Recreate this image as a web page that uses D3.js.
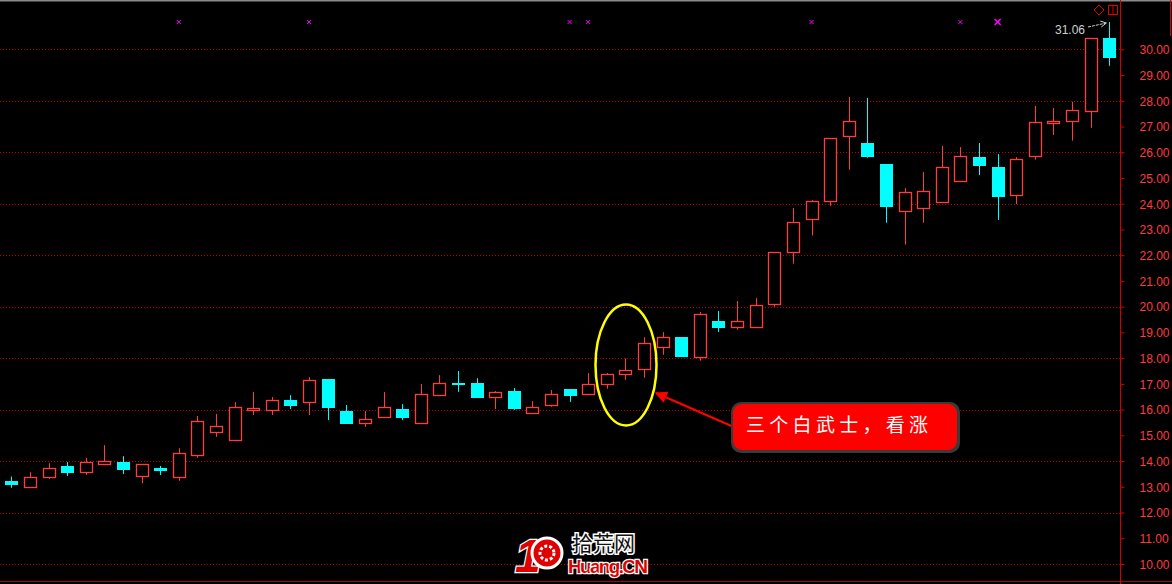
<!DOCTYPE html>
<html>
<head>
<meta charset="utf-8">
<title>K-line</title>
<style>
  body { margin: 0; background: #000; }
  svg { display: block; }
  .tick text { font-family: "Liberation Sans", Arial, sans-serif; font-size: 12px; fill: #ff3c3c; }
  .tick line { stroke: #d00000; }
</style>
</head>
<body>
<script src="https://d3js.org/d3.v7.min.js"></script>
<script>
// price values per candle
var opens  = [13.22,13.00,13.39,13.81,13.58,13.89,13.96,13.43,13.74,13.39,
              14.24,15.11,14.80,16.00,16.00,16.37,16.30,17.19,15.94,15.46,
              15.70,16.02,15.46,16.55,17.03,17.03,16.50,16.72,15.85,16.16,
              16.80,16.59,17.00,17.37,17.56,18.44,18.82,18.05,19.44,19.22,
              19.22,20.09,22.13,23.39,24.09,26.62,26.36,25.54,23.70,23.82,
              24.05,24.89,25.81,25.43,24.33,25.84,27.12,27.22,27.59,30.44];
var closes = [13.12,13.40,13.72,13.57,13.95,14.00,13.69,13.87,13.65,14.30,
              15.54,15.35,16.09,16.05,16.36,16.19,17.14,16.11,15.49,15.62,
              16.09,15.72,16.59,17.02,16.98,16.50,16.67,16.07,16.12,16.59,
              16.58,16.98,17.37,17.52,18.57,18.81,18.09,19.70,19.22,19.43,
              20.05,22.11,23.28,24.09,26.54,27.20,25.86,23.92,24.44,24.48,
              25.41,25.84,25.51,24.31,25.72,27.16,27.20,27.63,30.43,29.71];
var highs  = [13.40,13.57,13.92,13.96,14.12,14.62,14.19,13.87,13.81,14.50,
              15.75,15.83,16.29,16.68,16.49,16.56,17.26,17.19,16.18,15.94,
              16.68,16.21,16.99,17.34,17.50,17.22,16.72,16.84,16.33,16.76,
              16.80,17.42,17.42,17.99,18.81,19.01,18.82,19.79,19.83,20.22,
              20.33,22.11,23.83,24.14,26.54,28.15,28.11,25.54,24.61,25.23,
              26.24,26.20,26.36,25.93,25.81,27.80,27.72,27.96,30.43,31.06];
var lows   = [12.96,13.00,13.30,13.42,13.46,13.89,13.50,13.14,13.46,13.23,
              14.13,14.94,14.80,15.79,15.79,16.02,15.79,15.59,15.49,15.33,
              15.70,15.59,15.46,16.55,16.69,16.46,16.02,15.99,15.85,16.11,
              16.30,16.59,16.81,17.16,17.24,18.13,18.09,17.90,19.02,19.10,
              19.22,20.00,21.67,22.76,23.92,25.32,25.79,23.26,22.41,23.26,
              24.05,24.84,25.11,23.37,23.99,25.71,26.67,26.45,26.95,29.36];

// candles carrying a magenta signal mark at the top
var signalIdx = [9, 16, 30, 31, 43, 51, 53];
// axis tick labels
var tickValues = d3.range(10, 31, 1);
var gridValues = d3.range(10, 31, 2);
var maxLabel = "31.06";
var noteText = "三个白武士，看涨";

var width = 1172, height = 584;
var red = "#ff3c3c", cyan = "#00ffff";

var svg = d3.select("body").append("svg")
    .attr("width", width)
    .attr("height", height);

svg.append("rect").attr("width", width).attr("height", height).attr("fill", "#000");

var x = d3.scaleLinear().domain([0, opens.length - 1]).range([11.3, 1109.3]);
var y = d3.scaleLinear().domain([10, 30]).range([564, 49.3]);

// top grey border, bottom red border
svg.append("line").attr("x1", 0).attr("x2", width).attr("y1", 0.5).attr("y2", 0.5)
    .attr("stroke", "#8a8a8a").attr("stroke-width", 2);
svg.append("line").attr("x1", 0).attr("x2", width).attr("y1", 581.5).attr("y2", 581.5)
    .attr("stroke", "#b00000");

// dotted grid
svg.append("g").selectAll("line").data(gridValues).join("line")
    .attr("x1", 0).attr("x2", 1120)
    .attr("y1", function(d) { return Math.round(y(d)) + 0.5; })
    .attr("y2", function(d) { return Math.round(y(d)) + 0.5; })
    .attr("stroke", "#c00000").attr("stroke-dasharray", "1,2");

// right axis
var axis = svg.append("g")
    .attr("transform", "translate(1120.5,0)")
    .call(d3.axisRight(y).tickValues(tickValues).tickFormat(d3.format(".2f")).tickSize(4).tickPadding(15));
axis.select(".domain").remove();
axis.selectAll(".tick text").attr("dy", "0.36em");
svg.append("line").attr("x1", 1120.5).attr("x2", 1120.5).attr("y1", 0).attr("y2", height)
    .attr("stroke", "#d00000");
svg.append("line").attr("x1", 1170.5).attr("x2", 1170.5).attr("y1", 0).attr("y2", 36)
    .attr("stroke", "#d00000");

// candles
var data = opens.map(function(o, i) {
  return {i: i, open: o, close: closes[i], high: highs[i], low: lows[i]};
});

var candles = svg.append("g").selectAll("g").data(data).join("g")
    .attr("transform", function(d) { return "translate(" + (Math.round(x(d.i)) + 0.5) + ",0)"; });

candles.each(function(d) {
  var g = d3.select(this);
  var up = d.close >= d.open;
  var c = up ? red : cyan;
  var top = Math.round(y(Math.max(d.open, d.close)));
  var bot = Math.round(y(Math.min(d.open, d.close)));
  if (up) {
    g.append("line").attr("y1", y(d.high)).attr("y2", top).attr("stroke", c);
    g.append("line").attr("y1", bot).attr("y2", y(d.low)).attr("stroke", c);
    if (bot - top < 1) {
      g.append("line").attr("x1", -6).attr("x2", 6).attr("y1", top + 0.5).attr("y2", top + 0.5)
          .attr("stroke", c).attr("stroke-width", 2);
    } else {
      g.append("rect").attr("x", -6).attr("width", 12)
          .attr("y", top + 0.5).attr("height", bot - top)
          .attr("fill", "#000").attr("stroke", c).attr("stroke-width", 1.3);
    }
  } else {
    g.append("line").attr("y1", y(d.high)).attr("y2", y(d.low)).attr("stroke", c);
    g.append("rect").attr("x", -6.5).attr("width", 13)
        .attr("y", top).attr("height", Math.max(2, bot - top + 1))
        .attr("fill", c);
  }
});

// magenta signal marks
svg.append("g").selectAll("path").data(signalIdx).join("path")
    .attr("d", function(i) {
      var cx = x(i), cy = 22, s = (i === 53) ? 3 : 2;
      return "M" + (cx - s) + "," + (cy - s) + "L" + (cx + s) + "," + (cy + s) +
             "M" + (cx + s) + "," + (cy - s) + "L" + (cx - s) + "," + (cy + s);
    })
    .attr("stroke", "#ff00ff").attr("stroke-width", function(i) { return i === 53 ? 1.6 : 1; });

// max price label with arrow
var last = data[data.length - 1];
svg.append("text").attr("x", 1085).attr("y", 33.5).attr("text-anchor", "end")
    .attr("font-family", "Liberation Sans, Arial, sans-serif").attr("font-size", 12)
    .attr("fill", "#d0d0d0").text(maxLabel);
svg.append("path")
    .attr("d", "M1088,27 L" + (x(last.i) - 3) + "," + (y(last.high) + 1))
    .attr("stroke", "#d0d0d0").attr("stroke-dasharray", "3,1").attr("fill", "none");
svg.append("path")
    .attr("d", "M" + (x(last.i) - 9) + "," + (y(last.high) - 1) + " L" + (x(last.i) - 3) + "," + (y(last.high) + 1) + " L" + (x(last.i) - 8) + "," + (y(last.high) + 5))
    .attr("stroke", "#d0d0d0").attr("fill", "none");

// top-right icons
svg.append("path").attr("d", "M1099,5 L1104,10 L1099,15 L1094,10 Z")
    .attr("fill", "none").attr("stroke", "#e00000");
svg.append("rect").attr("x", 1108.5).attr("y", 5.5).attr("width", 9).attr("height", 9)
    .attr("fill", "none").attr("stroke", "#e00000");
svg.append("line").attr("x1", 1113).attr("x2", 1113).attr("y1", 5).attr("y2", 15)
    .attr("stroke", "#e00000");

// yellow ellipse around the three soldiers
svg.append("ellipse").attr("cx", 626).attr("cy", 365).attr("rx", 30.5).attr("ry", 60.5)
    .attr("fill", "none").attr("stroke", "#ffff00").attr("stroke-width", 2.5);

// arrow from callout to ellipse
svg.append("defs").append("marker")
    .attr("id", "head").attr("viewBox", "0 0 10 10").attr("refX", 9).attr("refY", 5)
    .attr("markerWidth", 9).attr("markerHeight", 7).attr("orient", "auto")
    .attr("markerUnits", "userSpaceOnUse")
  .append("path").attr("d", "M0,0 L10,5 L0,10 Z").attr("fill", "#ff0000");
d3.select("marker").attr("markerWidth", 18).attr("markerHeight", 12);
svg.append("line").attr("x1", 736).attr("y1", 428).attr("x2", 656).attr("y2", 393)
    .attr("stroke", "#ff0000").attr("stroke-width", 2).attr("marker-end", "url(#head)");

// callout box
svg.append("rect").attr("x", 731).attr("y", 402).attr("width", 229).attr("height", 51).attr("rx", 10)
    .attr("fill", "#3a3a3a");
svg.append("rect").attr("x", 733).attr("y", 404).attr("width", 224).attr("height", 46).attr("rx", 9)
    .attr("fill", "#ff0000");
svg.append("text").attr("x", 746).attr("y", 432)
    .attr("font-family", "Noto Sans CJK SC, sans-serif").attr("font-size", 19)
    .attr("letter-spacing", 4.3).attr("fill", "#fff").text(noteText);

// watermark logo
var logo = svg.append("g");
logo.append("text").attr("x", 515).attr("y", 572)
    .attr("font-family", "Liberation Sans, Arial, sans-serif").attr("font-size", 46)
    .attr("font-weight", "bold").attr("font-style", "italic")
    .attr("fill", "#e00000").attr("stroke", "#fff").attr("stroke-width", 2.5)
    .attr("paint-order", "stroke").text("1");
logo.append("circle").attr("cx", 547).attr("cy", 553).attr("r", 15)
    .attr("fill", "#e00000").attr("stroke", "#fff").attr("stroke-width", 3);
logo.append("circle").attr("cx", 547).attr("cy", 553).attr("r", 7)
    .attr("fill", "none").attr("stroke", "#fff").attr("stroke-width", 3).attr("stroke-dasharray", "3,2");
logo.append("text").attr("x", 572).attr("y", 551)
    .attr("font-family", "Noto Sans CJK SC, sans-serif").attr("font-size", 21)
    .attr("fill", "#111").attr("stroke", "#fff").attr("stroke-width", 3)
    .attr("paint-order", "stroke").text("拾荒网");
logo.append("text").attr("x", 568).attr("y", 573)
    .attr("font-family", "Liberation Sans, Arial, sans-serif").attr("font-size", 19)
    .attr("font-weight", "bold").attr("textLength", 80)
    .attr("fill", "#e00000").attr("stroke", "#fff").attr("stroke-width", 2.5)
    .attr("paint-order", "stroke").text("Huang.CN");
</script>
</body>
</html>
